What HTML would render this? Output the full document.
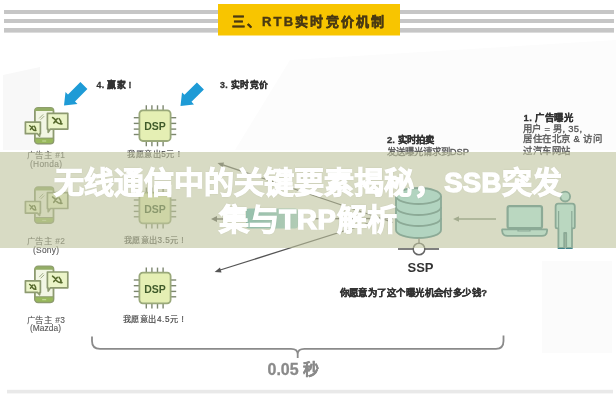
<!DOCTYPE html>
<html lang="zh-CN">
<head>
<meta charset="utf-8">
<style>
html,body{margin:0;padding:0;width:616px;height:400px;overflow:hidden;background:#fff;}
body{position:relative;font-family:"Liberation Sans",sans-serif;}
svg{position:absolute;left:0;top:0;}
#diag{filter:blur(0.45px);}
.t{font-family:"Liberation Sans",sans-serif;}
#band{position:absolute;left:0;top:152px;width:616px;height:96px;background:rgba(190,195,156,0.6);}
#title{filter:blur(0.3px);position:absolute;left:0;top:152px;width:616px;height:96px;color:#fff;font-weight:bold;font-size:30px;line-height:37px;text-align:center;-webkit-text-stroke:1.1px #fff;text-shadow:0 0 1.5px rgba(40,40,20,0.25);}
.lat{position:relative;top:-1px;-webkit-text-stroke:1.5px #fff;font-size:27.5px;}
#title div{position:absolute;left:0;width:616px;text-align:center;white-space:nowrap;}
</style>
</head>
<body>
<svg id="diag" width="616" height="400" viewBox="0 0 616 400">
  <defs>
    <g id="phone">
      <rect x="0.9" y="0.9" width="18.6" height="35.8" rx="3.2" fill="#f2f6e4" stroke="#8d9a70" stroke-width="1.8"/>
      <path d="M0.9 3.6 A2.7 2.7 0 0 1 3.6 0.9 H16.8 A2.7 2.7 0 0 1 19.5 3.6 V4.2 H0.9 Z" fill="#93ad66"/>
      <path d="M0.9 31.2 H19.5 V34 A2.7 2.7 0 0 1 16.8 36.7 H3.6 A2.7 2.7 0 0 1 0.9 34 Z" fill="#98b85c" stroke="#8d9a70" stroke-width="1"/>
      <line x1="8.2" y1="34.1" x2="12.2" y2="34.1" stroke="#cfe0a8" stroke-width="0.9"/>
      <path d="M5.2 11.5 L9.2 7.5 M6.6 12.8 L10.2 9.2" stroke="#8d9a70" stroke-width="0.8"/>
      <path d="M-8.6 15.2 H6.4 V26.8 H5.8 L5.6 29.2 L3.4 26.8 H-8.6 Z" fill="#ebf4c8" stroke="#8d9a70" stroke-width="1.7" stroke-linejoin="round"/>
      <path d="M-4.4 18.8 Q-2.6 19.6 -1.2 22.4 Q0.2 24 2 23.6 M-3.6 22.6 L-1 19.4 M0.4 19.4 Q1.8 21 1.6 23.4" fill="none" stroke="#56692c" stroke-width="1.4" stroke-linecap="round"/>
      <path d="M13.4 6.4 H33.8 V22.2 H16.4 L14.2 25.4 L14.1 22.2 H13.4 Z" fill="#ebf4c8" stroke="#8d9a70" stroke-width="1.7" stroke-linejoin="round"/>
      <path d="M18.6 10.6 Q20.8 11.6 22.6 15.2 Q24.4 17.4 28 17 M19.8 16 L23.2 11.8 M25 11.6 Q27.4 14 27 16.8" fill="none" stroke="#56692c" stroke-width="1.6" stroke-linecap="round"/>
    </g>
    <g id="chip">
      <!-- origin at chip body left top 139.4,272.6 -->
      <g stroke="#7d8770" stroke-width="1.4">
        <line x1="6.9" y1="-5" x2="6.9" y2="0"/><line x1="12.5" y1="-5" x2="12.5" y2="0"/><line x1="18.1" y1="-5" x2="18.1" y2="0"/><line x1="23.7" y1="-5" x2="23.7" y2="0"/>
        <line x1="6.9" y1="30.7" x2="6.9" y2="36"/><line x1="12.5" y1="30.7" x2="12.5" y2="36"/><line x1="18.1" y1="30.7" x2="18.1" y2="36"/><line x1="23.7" y1="30.7" x2="23.7" y2="36"/>
        <line x1="-5.6" y1="7.4" x2="0" y2="7.4"/><line x1="-5.6" y1="13.1" x2="0" y2="13.1"/><line x1="-5.6" y1="18.8" x2="0" y2="18.8"/><line x1="-5.6" y1="24.2" x2="0" y2="24.2"/>
        <line x1="31.2" y1="7.4" x2="36.8" y2="7.4"/><line x1="31.2" y1="13.1" x2="36.8" y2="13.1"/><line x1="31.2" y1="18.8" x2="36.8" y2="18.8"/><line x1="31.2" y1="24.2" x2="36.8" y2="24.2"/>
      </g>
      <rect x="0" y="0" width="31.2" height="30.7" rx="3.5" fill="#e5efb4" stroke="#9aa97a" stroke-width="1.8"/>
      <text x="15.6" y="20" text-anchor="middle" font-size="10.5" font-weight="bold" fill="#3f5a2a" class="t">DSP</text>
    </g>
    <path id="barrow" d="M80.4 82 L87.4 89 L75 101.4 L77.5 104 L64 105.6 L65.5 92 L68 94.4 Z" fill="#1e9bd6"/>
  </defs>

  <!-- faint background shapes -->
  <path d="M3 75 L40 67 L40 150 L3 150 Z" fill="#f8f8f8"/>
  <path d="M290 60 L616 40 L616 150 L235 150 Z" fill="#fcfcfc"/>
  <rect x="542" y="261" width="70" height="92" fill="#fbfbfb"/>

  <!-- header lines -->
  <rect x="4" y="10" width="610" height="4" fill="#c6c6c6"/>
  <rect x="4" y="19" width="610" height="4" fill="#c6c6c6"/>
  <rect x="4" y="28" width="610" height="4.6" fill="#c6c6c6"/>
  <rect x="218" y="4" width="182" height="31.5" fill="#f8c500"/>
  <text x="231.5" y="25.6" font-size="13" font-weight="bold" fill="#4a3a12" stroke="#4a3a12" stroke-width="0.45" letter-spacing="2.2" class="t">三、RTB实时竞价机制</text>

  <!-- labels -->
  <text x="96.5" y="88" font-size="8.8" font-weight="bold" fill="#333" stroke="#333" stroke-width="0.3" class="t" textLength="35" lengthAdjust="spacing">4. 赢家 !</text>
  <text x="220" y="88" font-size="8.8" font-weight="bold" fill="#333" stroke="#333" stroke-width="0.3" class="t" textLength="48" lengthAdjust="spacing">3. 实时竞价</text>

  <use href="#barrow"/>
  <use href="#barrow" transform="translate(116.5,0.4)"/>

  <!-- advertisers -->
  <use href="#phone" transform="translate(34,106.9)"/>
  <use href="#phone" transform="translate(34,186.3)"/>
  <use href="#phone" transform="translate(34,265.6)"/>
  <g font-size="8.4" fill="#5a5a5a" stroke="#5a5a5a" stroke-width="0.12" class="t">
    <text x="27" y="158.3" textLength="38" lengthAdjust="spacing">广告主 #1</text>
    <text x="30" y="166.8" textLength="32" lengthAdjust="spacing">(Honda)</text>
    <text x="27" y="244" textLength="38" lengthAdjust="spacing">广告主 #2</text>
    <text x="33" y="253" textLength="26" lengthAdjust="spacing">(Sony)</text>
    <text x="27" y="322.6" textLength="38" lengthAdjust="spacing">广告主 #3</text>
    <text x="30" y="331" textLength="31" lengthAdjust="spacing">(Mazda)</text>
  </g>

  <!-- DSPs -->
  <use href="#chip" transform="translate(139.4,110.3)"/>
  <use href="#chip" transform="translate(139.4,192.6)"/>
  <use href="#chip" transform="translate(139.4,272.6)"/>
  <g font-size="8.2" fill="#4a4a4a" stroke="#4a4a4a" stroke-width="0.18" class="t">
    <text x="127" y="157" textLength="53" lengthAdjust="spacing">我愿意出5元 !</text>
    <text x="124" y="242.8" textLength="59.5" lengthAdjust="spacing">我愿意出3.5元 !</text>
    <text x="122.7" y="321.8" textLength="61" lengthAdjust="spacing">我愿意出4.5元 !</text>
  </g>

  <!-- right text blocks -->
  <g font-size="9.4" fill="#555" stroke="#555" stroke-width="0.3" class="t">
    <text x="523.5" y="121" font-weight="bold" fill="#333" stroke="#333" stroke-width="0.3" textLength="49" lengthAdjust="spacing">1. 广告曝光</text>
    <text x="523" y="132" textLength="59" lengthAdjust="spacing">用户 = 男, 35,</text>
    <text x="523" y="142" textLength="79" lengthAdjust="spacing">居住在北京 &amp; 访问</text>
    <text x="523" y="154" textLength="47" lengthAdjust="spacing">过汽车网站</text>
    <text x="387" y="143" font-weight="bold" fill="#333" stroke="#333" stroke-width="0.3" textLength="47" lengthAdjust="spacing">2. 实时拍卖</text>
    <text x="387" y="155" textLength="82" lengthAdjust="spacing">发送曝光请求到DSP</text>
  </g>

  <!-- arrows from SSP to DSPs -->
  <g stroke="#555" stroke-width="1.3" fill="none">
    <line x1="393" y1="222.5" x2="220" y2="163.8"/>
    <line x1="393" y1="218.5" x2="214" y2="219"/>
    <line x1="393" y1="215.5" x2="217" y2="271"/>
  </g>
  <g fill="#555">
    <path d="M217.5 163 L224 162.5 L222.5 167.5 Z"/>
    <path d="M211 219 L217 216 L217 222 Z"/>
    <path d="M214.6 272 L220 267.5 L221.5 272.5 Z"/>
  </g>

  <defs><linearGradient id="tg" x1="0" x2="1" y1="0" y2="0"><stop offset="0" stop-color="#5bbcc4"/><stop offset="1" stop-color="#9fd8da"/></linearGradient></defs><rect x="246" y="208.5" width="52" height="20" rx="3" fill="url(#tg)"/>
  <!-- database -->
  <g stroke="#41848d" stroke-width="1.8">
    <path d="M396 196 V230 A22.5 8 0 0 0 441 230 V196" fill="#a0edf6"/>
    <ellipse cx="418.5" cy="196" rx="22.5" ry="8" fill="#a0edf6"/>
    <path d="M396 207 A22.5 8 0 0 0 441 207" fill="none"/>
    <path d="M396 218 A22.5 8 0 0 0 441 218" fill="none"/>
  </g>
  <line x1="419" y1="238" x2="419" y2="243" stroke="#777" stroke-width="1.4"/>
  <line x1="398" y1="249" x2="439" y2="249" stroke="#555" stroke-width="1.6"/>
  <circle cx="419" cy="249" r="5.8" fill="#fff" stroke="#666" stroke-width="1.5"/>
  <text x="420.5" y="272" font-size="13" font-weight="bold" fill="#333" text-anchor="middle" class="t">SSP</text>

  <!-- laptop arrow -->
  <line x1="455" y1="219" x2="496" y2="219" stroke="#7a8a7a" stroke-width="1.3"/>
  <path d="M453 219 L459 216.3 L459 221.7 Z" fill="#7a8a7a"/>
  <!-- laptop -->
  <rect x="507.6" y="206.2" width="34.4" height="22" rx="2" fill="#b4f5f6" stroke="#41848d" stroke-width="2.2"/>
  <path d="M502.2 229.4 H547 Q547.6 233.4 545 235.2 Q544 235.8 542 235.8 H507.4 Q505.4 235.8 504.4 235.2 Q501.6 233.4 502.2 229.4 Z" fill="#b4f5f6" stroke="#41848d" stroke-width="1.8" stroke-linejoin="round"/>
  <path d="M518 229.6 V231 H530 V229.6" fill="none" stroke="#41848d" stroke-width="1.2"/>
  <!-- person -->
  <circle cx="565.2" cy="196.6" r="4.9" fill="#b4f5f6" stroke="#41848d" stroke-width="1.8"/>
  <path d="M558.2 203.6 H572.2 Q574.8 203.6 574.8 206.4 V226.8 Q574.8 228.4 573.2 228.4 H572 V248 H566.2 V233 H564.2 V248 H558.4 V228.4 H557.2 Q555.6 228.4 555.6 226.8 V206.4 Q555.6 203.6 558.2 203.6 Z" fill="#b4f5f6" stroke="#41848d" stroke-width="1.8" stroke-linejoin="round"/>
  <path d="M558.6 211 V228 M571.8 211 V228" stroke="#41848d" stroke-width="1.2" fill="none"/>

  <!-- question -->
  <text x="339.5" y="295.8" font-size="9.43" font-weight="bold" fill="#333" stroke="#333" stroke-width="0.35" class="t" textLength="147.5" lengthAdjust="spacing">你愿意为了这个曝光机会付多少钱?</text>

  <!-- brace -->
  <path d="M92 336.5 V341 Q92 348.8 100 348.8 H291 Q297.7 348.8 297.7 354 V358 M297.7 354 Q297.7 348.8 304.4 348.8 H496 Q503.5 348.8 503.5 341 V335.5" fill="none" stroke="#8a8a8a" stroke-width="1.8"/>
  <text x="267.5" y="374.6" font-size="16" font-weight="bold" fill="#8a8a8a" stroke="#8a8a8a" stroke-width="0.3" class="t">0.05 秒</text>

  <!-- bottom line -->
  <rect x="7" y="389.8" width="606" height="3.6" fill="#e9e9e9"/>
</svg>
<div id="band"></div>
<div id="title">
  <div style="top:12px">无线通信中的关键要素揭秘，<span class="lat" style="letter-spacing:0.4px">SSB</span>突发</div>
  <div style="top:49px">集与<span class="lat" style="letter-spacing:0.8px">TRP</span>解析</div>
</div>
</body>
</html>
